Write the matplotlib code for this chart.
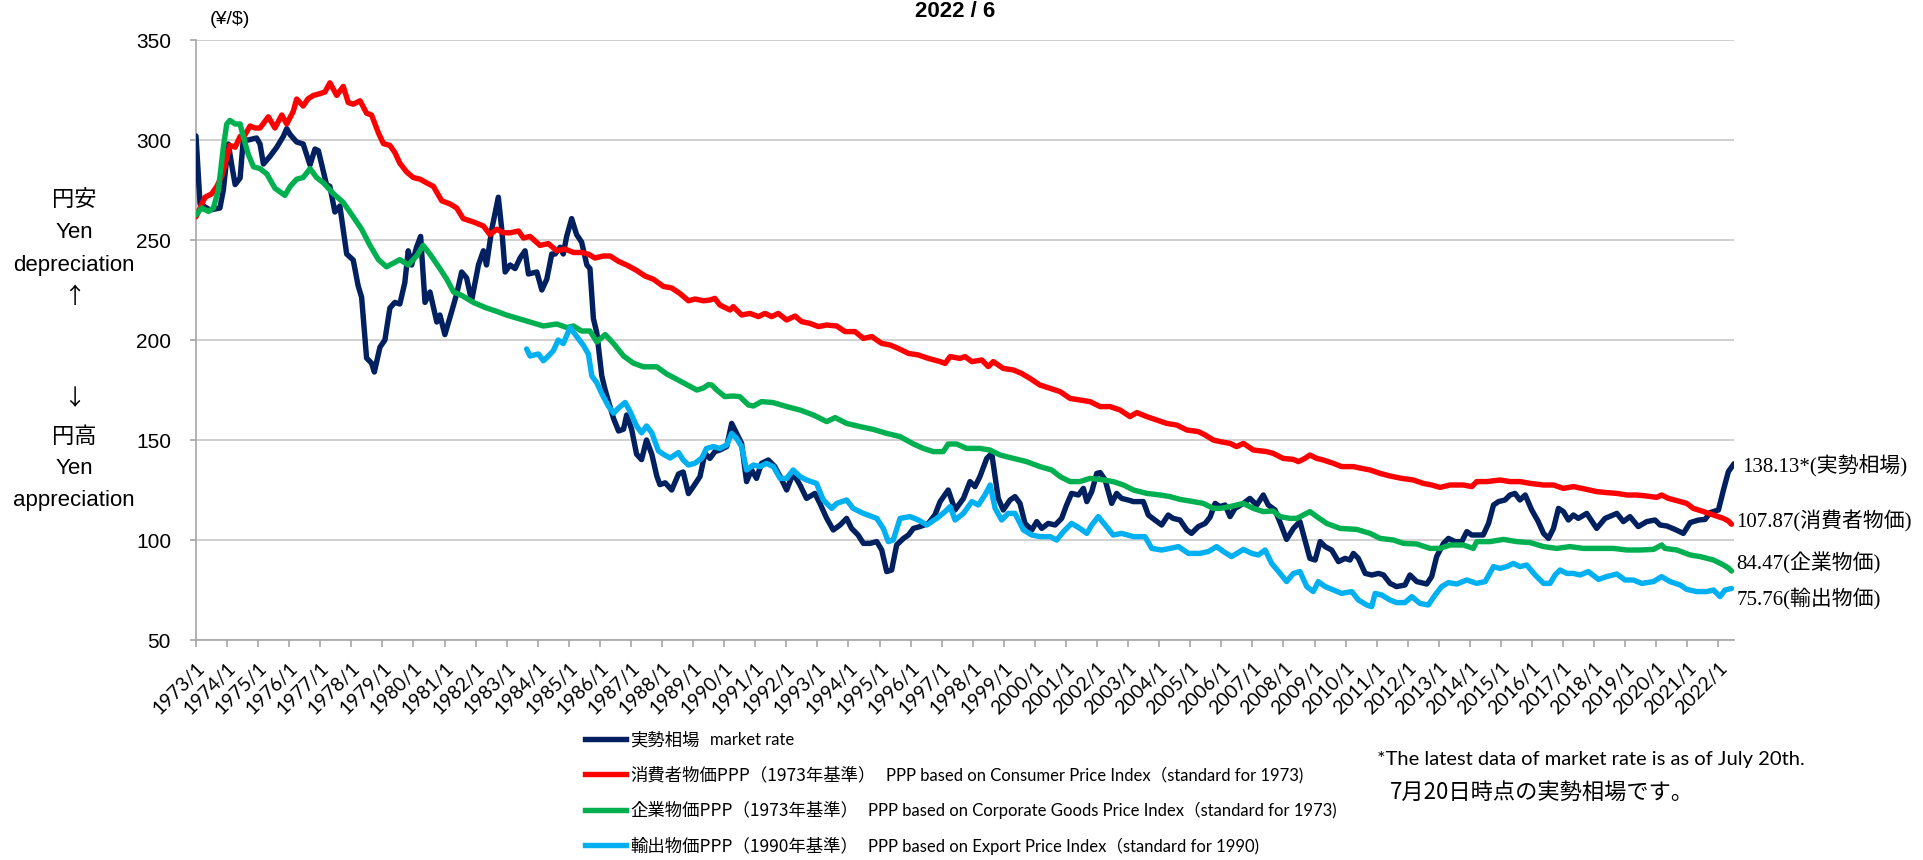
import matplotlib
matplotlib.use("Agg")
import matplotlib.pyplot as plt
from matplotlib.lines import Line2D

plt.rcParams['font.family'] = ['Liberation Sans', 'Noto Sans CJK JP', 'DejaVu Sans']

# ---- data (x = decimal year) ----
mr_years = [1973.0, 1973.13, 1973.45, 1973.77, 1973.88, 1974.04, 1974.15, 1974.26, 1974.42, 1974.52,
            1974.68, 1974.95, 1975.06, 1975.17, 1975.39, 1975.6, 1975.81, 1975.92, 1976.03, 1976.24,
            1976.45, 1976.67, 1976.83, 1976.94, 1977.2, 1977.31, 1977.47, 1977.63, 1977.85, 1978.06,
            1978.22, 1978.33, 1978.49, 1978.65, 1978.74, 1978.92, 1979.08, 1979.24, 1979.4, 1979.56,
            1979.72, 1979.83, 1979.94, 1980.1, 1980.23, 1980.37, 1980.53, 1980.75, 1980.85, 1981.01,
            1981.23, 1981.39, 1981.55, 1981.71, 1981.87, 1982.09, 1982.25, 1982.35, 1982.52, 1982.73,
            1982.84, 1982.95, 1983.11, 1983.27, 1983.43, 1983.59, 1983.7, 1983.97, 1984.13, 1984.29,
            1984.45, 1984.56, 1984.72, 1984.82, 1984.93, 1985.09, 1985.25, 1985.41, 1985.58, 1985.68,
            1985.79, 1985.9, 1986.06, 1986.17, 1986.27, 1986.44, 1986.6, 1986.76, 1986.86, 1987.02,
            1987.18, 1987.34, 1987.5, 1987.67, 1987.83, 1987.93, 1988.1, 1988.31, 1988.53, 1988.68,
            1988.85, 1989.01, 1989.22, 1989.38, 1989.54, 1989.7, 1989.86, 1990.08, 1990.24, 1990.4,
            1990.56, 1990.72, 1990.88, 1991.04, 1991.2, 1991.42, 1991.63, 1991.8, 1992.01, 1992.22,
            1992.44, 1992.65, 1992.92, 1993.08, 1993.3, 1993.51, 1993.73, 1993.94, 1994.1, 1994.31,
            1994.48, 1994.69, 1994.91, 1995.07, 1995.23, 1995.39, 1995.55, 1995.77, 1995.93, 1996.09,
            1996.3, 1996.57, 1996.78, 1996.95, 1997.21, 1997.43, 1997.7, 1997.91, 1998.07, 1998.23,
            1998.45, 1998.61, 1998.82, 1998.98, 1999.2, 1999.36, 1999.52, 1999.68, 1999.9, 2000.06,
            2000.22, 2000.43, 2000.65, 2000.86, 2001.02, 2001.18, 2001.4, 2001.56, 2001.67, 2001.83,
            2001.99, 2002.1, 2002.26, 2002.47, 2002.63, 2002.79, 2003.0, 2003.17, 2003.49, 2003.65,
            2003.86, 2004.08, 2004.29, 2004.45, 2004.67, 2004.89, 2005.04, 2005.26, 2005.48, 2005.64,
            2005.8, 2005.96, 2006.12, 2006.28, 2006.44, 2006.71, 2006.92, 2007.14, 2007.35, 2007.51,
            2007.73, 2007.91, 2008.1, 2008.32, 2008.53, 2008.69, 2008.85, 2009.02, 2009.18, 2009.34,
            2009.55, 2009.77, 2009.98, 2010.14, 2010.25, 2010.41, 2010.63, 2010.84, 2011.06, 2011.22,
            2011.43, 2011.64, 2011.91, 2012.07, 2012.29, 2012.61, 2012.77, 2012.93, 2013.15, 2013.31,
            2013.52, 2013.74, 2013.9, 2014.06, 2014.43, 2014.6, 2014.76, 2014.92, 2015.13, 2015.29,
            2015.45, 2015.61, 2015.78, 2015.99, 2016.2, 2016.37, 2016.53, 2016.69, 2016.85, 2017.01,
            2017.17, 2017.33, 2017.49, 2017.76, 2018.08, 2018.35, 2018.73, 2018.94, 2019.15, 2019.42,
            2019.69, 2019.96, 2020.12, 2020.34, 2020.6, 2020.87, 2021.09, 2021.36, 2021.57, 2021.73,
            2022.0, 2022.16, 2022.32, 2022.5]
mr_vals = [302, 268, 265, 266, 275, 298, 287.5, 277.7, 281, 300,
           300, 301, 298, 288, 292, 296.4, 301.8, 305.7, 302.7, 299,
           298, 287.5, 295.5, 294.6, 277.7, 276.8, 264, 267, 243, 240,
           227, 221.4, 191, 188.4, 184, 196.4, 200, 216, 218.8, 218,
           228.6, 244.6, 237.5, 246.4, 251.8, 218.8, 224, 209, 212.5, 202.7,
           214.3, 223, 234, 231, 219.6, 237.5, 244.6, 237.5, 255.4, 271.4,
           255.4, 234, 237.5, 235.7, 241, 244.6, 233, 234, 225, 230.4,
           243, 243, 246.4, 243, 251.8, 260.7, 252.7, 249, 237.5, 235.7,
           210.7, 203.6, 182, 175, 169.6, 160.7, 154.5, 155.4, 162.5, 155.4,
           142.9, 140.2, 150, 142.9, 132, 127.7, 128.6, 125, 133, 134,
           123.2, 126.8, 131.7, 143.3, 140.8, 144.2, 145, 146.7, 158.3, 153.3,
           148.3, 129.2, 135, 130.8, 138.3, 140, 136.7, 131.7, 125, 133.3,
           127.5, 120.8, 123.3, 118.3, 110.8, 105, 107.5, 110.8, 105.8, 102.5,
           98.3, 98.3, 99.2, 95, 84.2, 85, 97.5, 100.8, 102.5, 105.8,
           106.7, 108.3, 112.5, 119.2, 125, 115, 120.8, 129.2, 126.7, 131.7,
           140.8, 143.3, 120.8, 115, 120, 121.7, 118.3, 108.3, 105, 109.2,
           105.8, 108.3, 107.5, 110.8, 117.5, 123.3, 122.5, 125.8, 119.2, 124.2,
           133.3, 133.7, 130, 118.3, 123.3, 120.8, 120, 119.2, 119.2, 112.5,
           110, 107.5, 112.5, 110.8, 110, 105, 103.3, 106.7, 108.3, 111.5,
           118.3, 116.7, 117.5, 111.7, 115.8, 118.3, 120.8, 117.5, 122.5, 117.5,
           115, 108, 100.3, 105.8, 109.2, 100, 90.8, 90, 99.2, 96.7,
           95, 89.2, 90.8, 90, 93.3, 90.8, 83.3, 82.5, 83.3, 82.5,
           78.3, 76.7, 77.5, 82.5, 79.2, 78, 81.7, 91.7, 98.3, 100.8,
           99.2, 99.2, 104.2, 102.5, 102.5, 108.3, 117.5, 119.2, 120, 122.5,
           123.3, 120, 122.5, 115, 109.2, 103.3, 100.8, 105.8, 115.8, 114.2,
           110, 112.5, 110.8, 113.3, 105.8, 110.8, 113.3, 109.2, 111.7, 106.7,
           109.2, 110, 107.5, 107, 105.3, 103.3, 108.7, 110, 110.3, 113.7,
           115, 125, 134.2, 138.13]

cpi_years = [1973.0, 1973.13, 1973.29, 1973.5, 1973.67, 1973.83, 1973.99, 1974.09, 1974.26, 1974.42,
             1974.58, 1974.74, 1974.9, 1975.06, 1975.33, 1975.54, 1975.76, 1975.92, 1976.13, 1976.24,
             1976.45, 1976.6, 1976.78, 1976.99, 1977.15, 1977.31, 1977.53, 1977.74, 1977.9, 1978.06,
             1978.28, 1978.49, 1978.65, 1978.87, 1979.03, 1979.24, 1979.4, 1979.56, 1979.78, 1979.99,
             1980.21, 1980.42, 1980.64, 1980.91, 1981.18, 1981.39, 1981.6, 1981.93, 1982.25, 1982.46,
             1982.68, 1982.89, 1983.11, 1983.38, 1983.54, 1983.75, 1984.07, 1984.34, 1984.61, 1984.88,
             1985.15, 1985.41, 1985.63, 1985.84, 1986.11, 1986.33, 1986.6, 1986.86, 1987.18, 1987.45,
             1987.72, 1988.04, 1988.31, 1988.58, 1988.85, 1989.06, 1989.33, 1989.54, 1989.7, 1989.86,
             1990.19, 1990.29, 1990.56, 1990.83, 1991.1, 1991.31, 1991.53, 1991.74, 1992.01, 1992.28,
             1992.49, 1992.76, 1993.03, 1993.3, 1993.62, 1993.89, 1994.21, 1994.48, 1994.75, 1995.07,
             1995.34, 1995.6, 1995.93, 1996.25, 1996.57, 1996.95, 1997.11, 1997.27, 1997.59, 1997.75,
             1997.97, 1998.29, 1998.5, 1998.66, 1998.98, 1999.31, 1999.57, 1999.84, 2000.16, 2000.49,
             2000.81, 2001.13, 2001.45, 2001.77, 2002.1, 2002.42, 2002.74, 2003.06, 2003.28, 2003.6,
             2003.92, 2004.24, 2004.56, 2004.89, 2005.26, 2005.48, 2005.74, 2005.96, 2006.28, 2006.49,
             2006.71, 2007.03, 2007.46, 2007.67, 2007.99, 2008.32, 2008.48, 2008.69, 2008.85, 2009.07,
             2009.28, 2009.61, 2009.87, 2010.25, 2010.52, 2010.79, 2011.11, 2011.43, 2011.81, 2012.18,
             2012.5, 2012.77, 2013.04, 2013.36, 2013.79, 2014.06, 2014.22, 2014.54, 2014.97, 2015.29,
             2015.61, 2015.94, 2016.37, 2016.69, 2017.01, 2017.33, 2017.76, 2018.08, 2018.4, 2018.73,
             2019.05, 2019.37, 2019.69, 2020.01, 2020.17, 2020.39, 2020.66, 2020.98, 2021.19, 2021.52,
             2021.84, 2022.16, 2022.32, 2022.42]
cpi_vals = [261.6, 266, 271.4, 273, 276.8, 282, 291, 297.3, 296.4, 301.8,
            302.7, 307, 306, 306, 311.6, 306, 312.5, 308, 314.3, 320.5,
            317, 320.5, 322.3, 323.2, 324, 328.6, 322.3, 326.8, 318.75, 317.9,
            319.6, 313.4, 312.5, 303.6, 298.2, 297.3, 293.75, 288.4, 284, 281.25,
            280.4, 278.6, 276.8, 269.6, 268, 266, 260.7, 259, 257, 252.7,
            255.4, 253.6, 253.6, 254.5, 251, 251.8, 247.3, 248.2, 244.6, 245.5,
            243.75, 243.75, 242.9, 241, 242, 242, 239.3, 237.5, 234.8, 232,
            230.4, 226.8, 226, 223.2, 219.6, 220.5, 219.6, 220, 220.8, 217.5,
            215, 216.7, 212.5, 213.3, 211.7, 213.3, 211.7, 213.3, 210, 212,
            209.2, 208.3, 206.7, 207.5, 207, 204.2, 204.2, 200.8, 201.7, 198.3,
            197.5, 195.8, 193.3, 192.5, 190.8, 189.2, 188.3, 191.7, 190.8, 191.7,
            189.2, 190, 186.7, 189.2, 185.8, 185, 183.3, 180.8, 177.5, 175.8,
            174.2, 170.8, 170, 169.2, 166.7, 166.7, 165, 161.7, 163.7, 161.7,
            160, 158.3, 157.5, 155, 154.2, 152.5, 150, 149.2, 148.3, 146.7,
            148.3, 145, 144.2, 143.3, 140.8, 140.3, 139.2, 140.8, 142.5, 140.8,
            140, 138.3, 136.7, 136.7, 135.8, 135, 133.3, 132, 130.8, 130,
            128.3, 127.5, 126.3, 127.5, 127.5, 126.7, 129.2, 129.2, 130, 129.2,
            129.2, 128.3, 127.5, 127.5, 125.8, 126.7, 125.3, 124.2, 123.7, 123.3,
            122.5, 122.5, 122, 121.3, 122.5, 120.8, 119.7, 118.3, 115.8, 114.2,
            112.5, 110.8, 109.5, 107.87]

cgpi_years = [1973.0, 1973.18, 1973.4, 1973.56, 1973.72, 1973.88, 1973.99, 1974.09, 1974.26, 1974.42,
              1974.52, 1974.68, 1974.85, 1975.06, 1975.28, 1975.54, 1975.86, 1976.03, 1976.24, 1976.45,
              1976.67, 1976.88, 1977.1, 1977.42, 1977.74, 1978.06, 1978.33, 1978.6, 1978.87, 1979.13,
              1979.35, 1979.56, 1979.83, 1980.1, 1980.31, 1980.53, 1980.85, 1981.07, 1981.29, 1981.55,
              1981.93, 1982.35, 1982.68, 1982.99, 1983.38, 1983.75, 1984.18, 1984.61, 1984.93, 1985.15,
              1985.41, 1985.68, 1985.9, 1986.17, 1986.44, 1986.76, 1987.08, 1987.4, 1987.83, 1988.15,
              1988.47, 1988.79, 1989.12, 1989.33, 1989.49, 1989.6, 1989.76, 1990.02, 1990.29, 1990.5,
              1990.78, 1990.94, 1991.2, 1991.58, 1992.01, 1992.44, 1992.87, 1993.3, 1993.57, 1993.94,
              1994.37, 1994.8, 1995.23, 1995.66, 1996.09, 1996.41, 1996.73, 1997.05, 1997.21, 1997.48,
              1997.8, 1998.23, 1998.55, 1998.88, 1999.31, 1999.73, 2000.16, 2000.54, 2000.81, 2001.13,
              2001.45, 2001.77, 2002.1, 2002.52, 2002.85, 2003.17, 2003.6, 2004.03, 2004.35, 2004.67,
              2005.1, 2005.42, 2005.74, 2005.96, 2006.28, 2006.71, 2007.03, 2007.35, 2007.67, 2007.89,
              2008.21, 2008.43, 2008.64, 2008.85, 2009.07, 2009.39, 2009.82, 2010.36, 2010.79, 2011.11,
              2011.54, 2011.86, 2012.29, 2012.72, 2013.04, 2013.36, 2013.79, 2014.11, 2014.22, 2014.65,
              2015.08, 2015.51, 2015.94, 2016.37, 2016.8, 2017.22, 2017.65, 2018.19, 2018.62, 2019.05,
              2019.48, 2019.91, 2020.17, 2020.28, 2020.66, 2021.09, 2021.41, 2021.84, 2022.16, 2022.32,
              2022.42]
cgpi_vals = [262.5, 266, 264.3, 266, 275, 296.4, 308, 309.8, 308, 308,
             301.8, 292.9, 286.6, 285.7, 283, 275.9, 272.3, 276.8, 280.4, 281.25,
             285.7, 281.25, 278.6, 273.2, 268.75, 261.6, 255.4, 247.3, 240.2, 236.6,
             238.4, 240.2, 237.5, 242, 247.3, 242.9, 235.7, 230.4, 224, 222.3,
             218.75, 216, 214.3, 212.5, 210.7, 209, 207, 208, 206.25, 207,
             204.5, 204.5, 199, 202.7, 198.2, 192, 188.4, 186.6, 186.6, 183,
             180.4, 177.7, 175, 176, 177.7, 177.5, 175, 171.7, 172, 171.7,
             167.5, 167, 169.2, 168.7, 166.7, 165, 162.5, 159.2, 161.2, 158.3,
             156.7, 155.3, 153.3, 151.7, 148, 145.8, 144.2, 144.2, 148, 148,
             145.8, 145.8, 145, 142.5, 140.8, 139.2, 136.7, 135, 131.7, 129.2,
             129.2, 130.8, 130.3, 129.2, 127.5, 125, 123.3, 122.5, 121.7, 120.3,
             119.2, 118.3, 115.8, 115.8, 116.7, 118.3, 115.8, 114.2, 114.5, 111.7,
             110.8, 110.8, 112.5, 114.2, 111.7, 108.3, 105.8, 105.3, 103.3, 100.8,
             100, 98.3, 98, 95.8, 95.8, 97.5, 97.5, 95.8, 99.2, 99.2,
             100.3, 99.2, 98.7, 96.7, 95.8, 96.7, 95.8, 95.8, 95.8, 95,
             95, 95.3, 97.5, 95.8, 95, 92.5, 91.7, 90, 87.5, 86,
             84.47]

epi_years = [1983.64, 1983.75, 1984.02, 1984.18, 1984.34, 1984.5, 1984.66, 1984.82, 1985.04, 1985.25,
             1985.47, 1985.63, 1985.74, 1985.9, 1986.06, 1986.27, 1986.44, 1986.6, 1986.81, 1986.97,
             1987.18, 1987.34, 1987.5, 1987.67, 1987.88, 1988.04, 1988.26, 1988.53, 1988.68, 1988.85,
             1989.06, 1989.28, 1989.43, 1989.65, 1989.86, 1990.08, 1990.24, 1990.4, 1990.56, 1990.72,
             1990.94, 1991.15, 1991.36, 1991.58, 1991.8, 1992.01, 1992.22, 1992.44, 1992.65, 1992.97,
             1993.19, 1993.46, 1993.62, 1993.94, 1994.15, 1994.48, 1994.91, 1995.12, 1995.28, 1995.44,
             1995.66, 1995.98, 1996.25, 1996.52, 1996.84, 1997.11, 1997.27, 1997.43, 1997.7, 1997.97,
             1998.18, 1998.39, 1998.56, 1998.72, 1998.93, 1999.14, 1999.36, 1999.63, 1999.9, 2000.16,
             2000.49, 2000.7, 2000.92, 2001.18, 2001.45, 2001.67, 2001.83, 2002.04, 2002.26, 2002.52,
             2002.79, 2003.17, 2003.54, 2003.76, 2004.08, 2004.35, 2004.62, 2004.94, 2005.31, 2005.58,
             2005.85, 2006.07, 2006.33, 2006.71, 2006.98, 2007.19, 2007.41, 2007.62, 2007.89, 2008.1,
             2008.32, 2008.53, 2008.75, 2008.96, 2009.12, 2009.34, 2009.61, 2009.87, 2010.2, 2010.41,
             2010.68, 2010.84, 2010.95, 2011.16, 2011.43, 2011.64, 2011.91, 2012.13, 2012.39, 2012.66,
             2012.88, 2013.09, 2013.31, 2013.58, 2013.9, 2014.22, 2014.49, 2014.76, 2014.97, 2015.19,
             2015.4, 2015.61, 2015.83, 2016.1, 2016.37, 2016.58, 2016.74, 2016.9, 2017.12, 2017.33,
             2017.55, 2017.81, 2018.14, 2018.4, 2018.73, 2018.99, 2019.26, 2019.53, 2019.91, 2020.17,
             2020.44, 2020.77, 2020.98, 2021.3, 2021.62, 2021.84, 2022.05, 2022.21, 2022.42]
epi_vals = [195.5, 192, 193, 189.6, 192, 194.6, 200, 198.2, 206.25, 201.8,
            197.3, 192.9, 182, 178.6, 173.2, 167, 163.4, 166, 168.75, 164.3,
            157, 153.6, 157, 153.6, 144.6, 142.9, 141, 143.75, 140, 137.5,
            138.4, 141, 145.8, 146.7, 145.8, 147.5, 153.3, 150.8, 146.7, 135,
            137.5, 136.7, 138.3, 136.7, 130.8, 130.8, 135, 131.7, 130, 128.3,
            120, 115.8, 118.3, 120, 115.8, 113.3, 110.8, 105.8, 99.2, 100,
            110.8, 111.7, 110, 107.5, 110.8, 114.2, 116.7, 110, 113.3, 119.2,
            117.5, 122.5, 127.5, 115.8, 110, 113.3, 113.3, 105, 102.5, 101.7,
            101.7, 100, 104.2, 108.3, 105.8, 103.3, 107.5, 111.7, 107.5, 102.5,
            103.3, 101.7, 101.7, 95.8, 95, 95.8, 96.7, 93.3, 93.3, 94.2,
            96.7, 94.2, 91.7, 95.3, 93.3, 92.5, 95, 88.3, 83.3, 79.2,
            83.3, 84.2, 76.7, 74.2, 79.2, 76.7, 75, 73.3, 74.2, 70,
            67.5, 66.7, 73.3, 72.5, 70, 68.7, 68.7, 71.7, 68.3, 67.5,
            72.5, 76.7, 78.7, 78, 80, 78.3, 79.2, 86.7, 85.8, 86.7,
            88.3, 86.7, 87.5, 82.5, 78.3, 78.3, 82.5, 85, 83.3, 83.3,
            82.5, 84.2, 80.3, 81.7, 83, 80, 80, 78.3, 79.2, 81.7,
            79.2, 77.5, 75.3, 74.2, 74.2, 75, 71.7, 75, 75.76]

tick_years = list(range(1973, 2023))
y_ticks = [50, 100, 150, 200, 250, 300, 350]

legend_jp = ["実勢相場", "消費者物価PPP（1973年基準）", "企業物価PPP（1973年基準）", "輸出物価PPP（1990年基準）"]
legend_en = ["market rate",
             "PPP based on Consumer Price Index（standard for 1973)",
             "PPP based on Corporate Goods Price Index（standard for 1973)",
             "PPP based on Export Price Index（standard for 1990)"]
end_names = ["*(実勢相場)", "(消費者物価)", "(企業物価)", "(輸出物価)"]
colors = ["#002060", "#ff0000", "#00b050", "#00b0f0"]

NARROW = ['Liberation Sans Narrow', 'Liberation Sans', 'Noto Sans CJK JP']
LATO = ['Lato', 'Noto Sans CJK JP']
CJK = ['Noto Sans CJK JP', 'DejaVu Sans']
SERIF = ['Liberation Serif', 'Noto Sans CJK JP']

W, H = 1924, 860
fig = plt.figure(figsize=(W / 100, H / 100), dpi=100)
ax = fig.add_axes([196 / W, 1 - 640 / H, (1734 - 196) / W, 600 / H])

series = [(mr_years, mr_vals), (cpi_years, cpi_vals), (cgpi_years, cgpi_vals), (epi_years, epi_vals)]
handles = []
for (xs, ys), c in zip(series, colors):
    ax.plot(xs, ys, color=c, lw=3.9, solid_joinstyle='round', solid_capstyle='round', zorder=3)
    handles.append(Line2D([], [], color=c, lw=3.9))

ax.set_xlim(1973, 2022.5)
ax.set_ylim(50, 350)
ax.set_yticks(y_ticks)
ax.set_yticklabels([str(v) for v in y_ticks], family=NARROW, fontsize=15)
ax.set_xticks(tick_years)
ax.set_xticklabels([f"{y}/1" for y in tick_years], rotation=45, ha='right', va='top',
                   rotation_mode='anchor', family=LATO, fontsize=14)
ax.grid(axis='y', color='#c8c8c8', lw=1.2)
ax.set_axisbelow(True)
for s in ['top', 'right']:
    ax.spines[s].set_visible(False)
for s in ['left', 'bottom']:
    ax.spines[s].set_color('#a6a6a6')
    ax.spines[s].set_linewidth(1.2)
ax.tick_params(axis='y', direction='out', length=4, width=1.2, color='#a6a6a6', pad=14)
ax.tick_params(axis='x', direction='out', length=5, width=1.2, color='#a6a6a6', pad=9)

# end-of-line value labels
offsets = [(8, -1), (5, 3), (5, 8), (5, -10)]
for (xs, ys), name, (dx, dy) in zip(series, end_names, offsets):
    ax.annotate(f"{ys[-1]:.2f}{name}", xy=(xs[-1], ys[-1]), xytext=(dx, dy),
                textcoords='offset pixels', ha='left', va='center', fontsize=15,
                family=SERIF, annotation_clip=False)

# title and unit
fig.text(955 / W, 1 - 17 / H, "2022 / 6", ha='center', va='baseline', fontsize=16,
         weight='bold', family=NARROW)
fig.text(210 / W, 1 - 20 / H, "(¥/$)", ha='left', va='center', fontsize=14)

# left side captions
side = [("円安", 200, CJK), ("Yen", 233, None), ("depreciation", 265, None), ("↑", 296, CJK),
        ("↓", 399, CJK), ("円高", 437, CJK), ("Yen", 469, None), ("appreciation", 500, None)]
for txt, yp, fam in side:
    kw = {'family': fam} if fam else {}
    fig.text(74 / W, 1 - yp / H, txt, ha='center', va='center', fontsize=16, **kw)

# legend
leg = fig.legend(handles, legend_jp, loc='upper left', bbox_to_anchor=(585 / W, 1 - 731 / H),
                 frameon=False, prop={'family': CJK, 'size': 12.5}, handlelength=2.35,
                 handletextpad=0.25, labelspacing=1.0, borderpad=0, borderaxespad=0)
fig.canvas.draw()
r = fig.canvas.get_renderer()
for t, en in zip(leg.get_texts(), legend_en):
    bb = t.get_window_extent(r)
    fig.text((bb.x1 + 10) / W, (bb.y0 + bb.y1) / 2 / H, en, ha='left', va='center',
             fontsize=12, family=LATO)

# footnote
fig.text(1377 / W, 1 - 760 / H, "*The latest data of market rate is as of July 20th.",
         ha='left', va='center', fontsize=14.5, family=LATO)
fig.text(1390 / W, 1 - 792 / H, "7月20日時点の実勢相場です。", ha='left', va='center',
         fontsize=16, family=CJK)

fig.savefig("out.png", dpi=100)
